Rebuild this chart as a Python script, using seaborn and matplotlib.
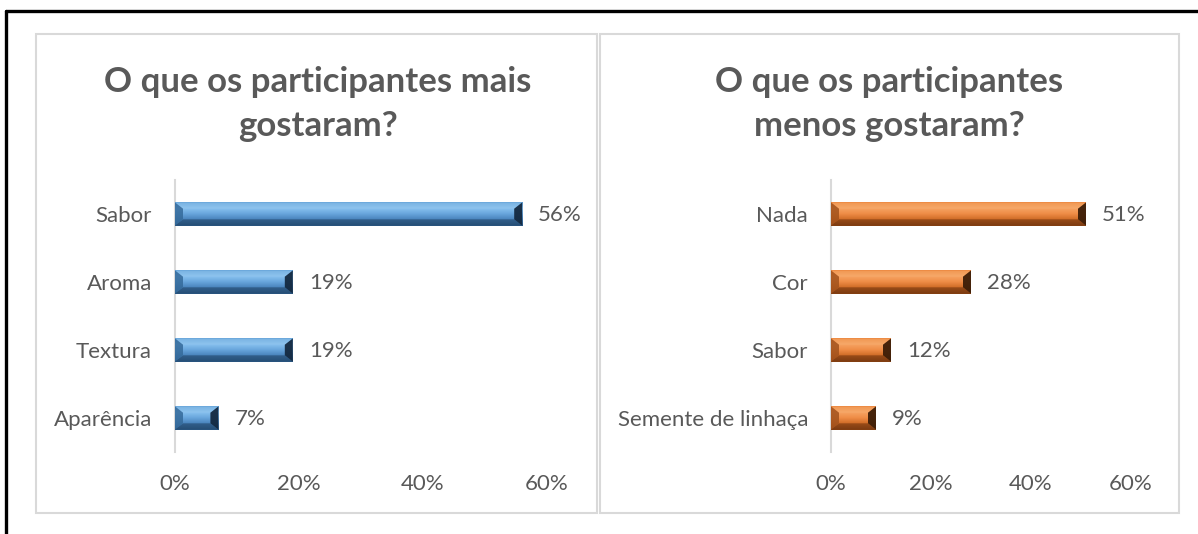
import numpy as np
import matplotlib
matplotlib.use("Agg")
import matplotlib.pyplot as plt
import seaborn as sns
import pandas as pd
from matplotlib.patches import Polygon, Rectangle
from matplotlib.lines import Line2D
from matplotlib.colors import LinearSegmentedColormap

# ---------------- data ----------------
liked_categories = ["Sabor", "Aroma", "Textura", "Aparência"]
liked_values = [0.56, 0.19, 0.19, 0.07]
liked_labels = ["56%", "19%", "19%", "7%"]

disliked_categories = ["Nada", "Cor", "Sabor", "Semente de linhaça"]
disliked_values = [0.51, 0.28, 0.12, 0.09]
disliked_labels = ["51%", "28%", "12%", "9%"]

x_ticks = [0, 0.2, 0.4, 0.6]
x_tick_labels = ["0%", "20%", "40%", "60%"]

title_liked = "O que os participantes mais\ngostaram?"
title_disliked = "O que os participantes\nmenos gostaram?"

# ---------------- style ----------------
W, H = 1198, 534
sns.set_theme(style="white")
plt.rcParams['font.family'] = ['Lato', 'DejaVu Sans']
TEXT = "#595959"
LABEL_SIZE = 16
TITLE_SIZE = 25

fig = plt.figure(figsize=(W / 100, H / 100), dpi=100)


def fx(px):
    return px / W


def fy(py):
    return 1 - py / H


# outer black frame (left + top)
fig.add_artist(Line2D([fx(6), fx(6)], [fy(11), 0], color="black", lw=2.4,
                      transform=fig.transFigure))
fig.add_artist(Line2D([fx(6), 1], [fy(11), fy(11)], color="black", lw=2.4,
                      transform=fig.transFigure))

# panel frames
for (x0, x1) in [(36, 597), (600, 1179)]:
    fig.add_artist(Rectangle((fx(x0), fy(513)), fx(x1) - fx(x0), fy(34) - fy(513),
                             fill=False, edgecolor="#d9d9d9", lw=1.5,
                             transform=fig.transFigure))

palettes = {
    "blue": dict(
        base="#5b9bd5",
        face=["#5d9cd4", "#88c1ef", "#67a4db", "#4680b8", "#2b5884"],
        top="#93c6ee", left="#356a9a", bottom="#22466a", right="#142940"),
    "orange": dict(
        base="#ed7d31",
        face=["#ea7e33", "#f6a463", "#ee8b45", "#cb6823", "#874113"],
        top="#f7ae70", left="#a2521c", bottom="#733610", right="#3c1d07"),
}


def bevel_bars(ax, pal):
    cmap = LinearSegmentedColormap.from_list("g", pal["face"])
    grad = np.linspace(0, 1, 64).reshape(-1, 1)
    inv = ax.transData.inverted()
    for p in list(ax.patches):
        bb = p.get_window_extent()
        x0, x1 = bb.x0, bb.x1
        yb, yt = bb.y0, bb.y1
        h = yt - yb
        w = x1 - x0
        bx = min(8, w / 2)
        by = h * 0.27

        def to_data(pts):
            return inv.transform(np.array(pts))

        (fl, fyb), (fr, fyt) = to_data([(x0, yb), (x1, yt)])
        ax.imshow(grad, cmap=cmap, aspect="auto", origin="upper",
                  extent=(fl, fr, fyb, fyt), zorder=3, interpolation="bilinear")
        top = [(x0, yt), (x1, yt), (x1 - bx, yt - by), (x0 + bx, yt - by)]
        bot = [(x0, yb), (x1, yb), (x1 - bx, yb + by), (x0 + bx, yb + by)]
        left = [(x0, yt), (x0 + bx, yt - by), (x0 + bx, yb + by), (x0, yb)]
        right = [(x1, yt), (x1 - bx, yt - by), (x1 - bx, yb + by), (x1, yb)]
        ax.add_patch(Polygon(to_data(top), closed=True, facecolor=pal["top"],
                             edgecolor="none", alpha=0.5, zorder=4))
        ax.add_patch(Polygon(to_data(bot), closed=True, facecolor=pal["bottom"],
                             edgecolor="none", alpha=0.6, zorder=4))
        ax.add_patch(Polygon(to_data(left), closed=True, facecolor=pal["left"],
                             edgecolor="none", alpha=0.85, zorder=4))
        ax.add_patch(Polygon(to_data(right), closed=True, facecolor=pal["right"],
                             edgecolor="none", alpha=0.95, zorder=4))
        p.set_zorder(2)


def draw_panel(axrect, cats, vals, labels, title, title_x, pal):
    ax = fig.add_axes(axrect)
    df = pd.DataFrame({"cat": cats, "val": vals})
    sns.barplot(data=df, x="val", y="cat", orient="h", color=palettes[pal]["base"],
                width=0.34, ax=ax, saturation=1)
    ax.set_xlim(0, 0.6)
    ax.set_ylim(3.5, -0.5)
    ax.set_xticks(x_ticks)
    ax.set_xticklabels(x_tick_labels)
    ax.set_xlabel("")
    ax.set_ylabel("")
    for s in ["top", "right", "bottom"]:
        ax.spines[s].set_visible(False)
    ax.spines["left"].set_color("#d9d9d9")
    ax.spines["left"].set_linewidth(1.5)
    ax.tick_params(axis="both", length=0, labelsize=LABEL_SIZE, colors=TEXT)
    ax.tick_params(axis="y", pad=16.5)
    ax.tick_params(axis="x", pad=16)
    ax.set_facecolor("none")
    for i, (v, lab) in enumerate(zip(vals, labels)):
        ax.annotate(lab, xy=(v, i), xytext=(11.5, -1), textcoords="offset points",
                    ha="left", va="center", fontsize=LABEL_SIZE, color=TEXT)
    fig.canvas.draw()
    bevel_bars(ax, palettes[pal])
    ax.set_xlim(0, 0.6)
    ax.set_ylim(3.5, -0.5)
    fig.text(fx(title_x), fy(104), title, ha="center", va="center",
             fontsize=TITLE_SIZE, fontweight="bold", color=TEXT, linespacing=1.45)
    return ax


ax_bottom = fy(452)
ax_height = fy(180) - fy(452)
draw_panel([fx(175), ax_bottom, fx(547) - fx(175), ax_height],
           liked_categories, liked_values, liked_labels, title_liked, 318, "blue")
draw_panel([fx(831), ax_bottom, fx(1131) - fx(831), ax_height],
           disliked_categories, disliked_values, disliked_labels, title_disliked, 889, "orange")

fig.savefig("out.png", dpi=100)
